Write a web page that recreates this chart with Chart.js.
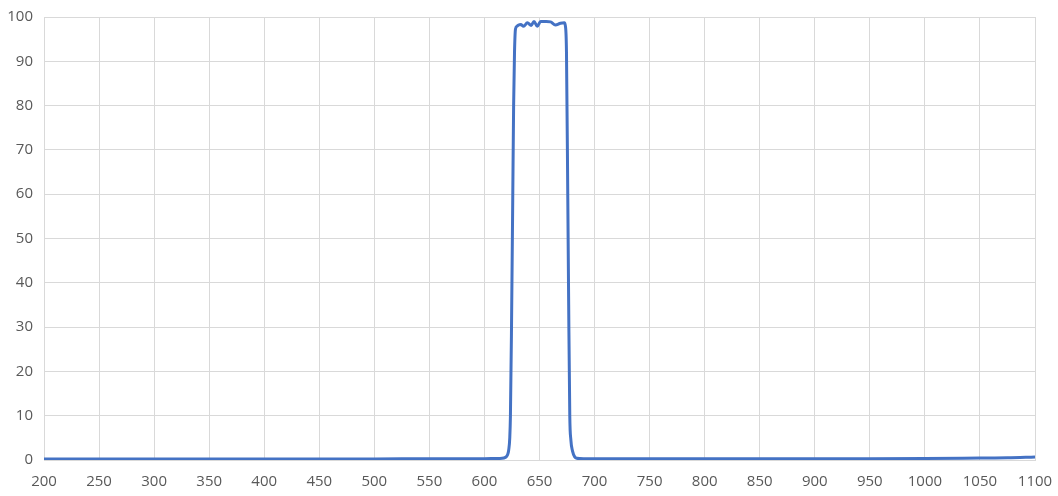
<!DOCTYPE html>
<html>
<head>
<meta charset="utf-8">
<script src="https://cdn.jsdelivr.net/npm/chart.js@4/dist/chart.umd.min.js"></script>
<style>
  html, body { margin: 0; padding: 0; background: #fff; }
  #wrap { width: 1058px; height: 496px; }
</style>
</head>
<body>
<div id="wrap"><canvas id="spectrum-chart" width="1058" height="496"></canvas></div>
<script>
// wavelength (nm) and transmission (%)
const wavelengths = [200, 250, 300, 350, 400, 450, 500, 550, 600, 610, 616, 619, 620, 621, 622, 623, 623.6, 624.5, 625.7, 626.5, 627.3, 628.2, 629.5, 631, 633, 635.5, 639, 642.5, 645, 648, 651, 656, 660, 664.5, 669, 672.5, 673.5, 674.5, 675.7, 676.5, 677.5, 678.5, 680, 682, 684, 690, 700, 750, 800, 850, 900, 950, 1000, 1050, 1075, 1100];
const transmission = [0.2, 0.25, 0.25, 0.2, 0.2, 0.25, 0.25, 0.3, 0.3, 0.35, 0.4, 0.6, 0.8, 1.2, 2.2, 5, 10, 28, 59, 80, 92, 97.3, 97.9, 98.2, 98.3, 97.9, 98.7, 98.1, 99.0, 97.9, 99.0, 99.0, 98.9, 98.2, 98.6, 98.7, 98, 92, 59, 35, 10, 4.5, 2, 0.7, 0.4, 0.3, 0.3, 0.3, 0.3, 0.3, 0.3, 0.3, 0.35, 0.45, 0.5, 0.7];

// axis ranges
const xRange = [200, 1100];
const xStep = 50;
const yRange = [0, 100];
const yStep = 10;

const points = wavelengths.map((w, i) => ({ x: w, y: transmission[i] }));

const ctx = document.getElementById('spectrum-chart').getContext('2d');
new Chart(ctx, {
    type: 'line',
    data: {
        datasets: [{
            data: points,
            borderColor: '#4472C4',
            borderWidth: 3,
            pointRadius: 0,
            fill: false,
            cubicInterpolationMode: 'monotone'
        }]
    },
    options: {
        responsive: false,
        animation: false,
        layout: { padding: { top: 17, right: 23, left: 0, bottom: 0 } },
        plugins: {
            legend: { display: false },
            tooltip: { enabled: false }
        },
        scales: {
            x: {
                type: 'linear',
                min: xRange[0],
                max: xRange[1],
                grid: { color: '#d9d9d9', drawTicks: false },
                border: { color: '#d9d9d9' },
                ticks: {
                    stepSize: xStep,
                    padding: 13,
                    maxRotation: 0,
                    autoSkip: false,
                    color: '#595959',
                    font: { family: 'Open Sans', size: 15 },
                    callback: v => String(v)
                },
                afterFit: function(scale) {
                    scale.height = 36;
                    scale.paddingLeft = 0;
                    scale.paddingRight = 0;
                }
            },
            y: {
                min: yRange[0],
                max: yRange[1],
                grid: { color: '#d9d9d9', drawTicks: false },
                border: { color: '#d9d9d9' },
                ticks: {
                    stepSize: yStep,
                    padding: 11,
                    color: '#595959',
                    font: { family: 'Open Sans', size: 15 }
                },
                afterFit: function(scale) {
                    scale.width = 44;
                    scale.paddingTop = 0;
                    scale.paddingBottom = 0;
                }
            }
        }
    }
});
</script>
</body>
</html>
